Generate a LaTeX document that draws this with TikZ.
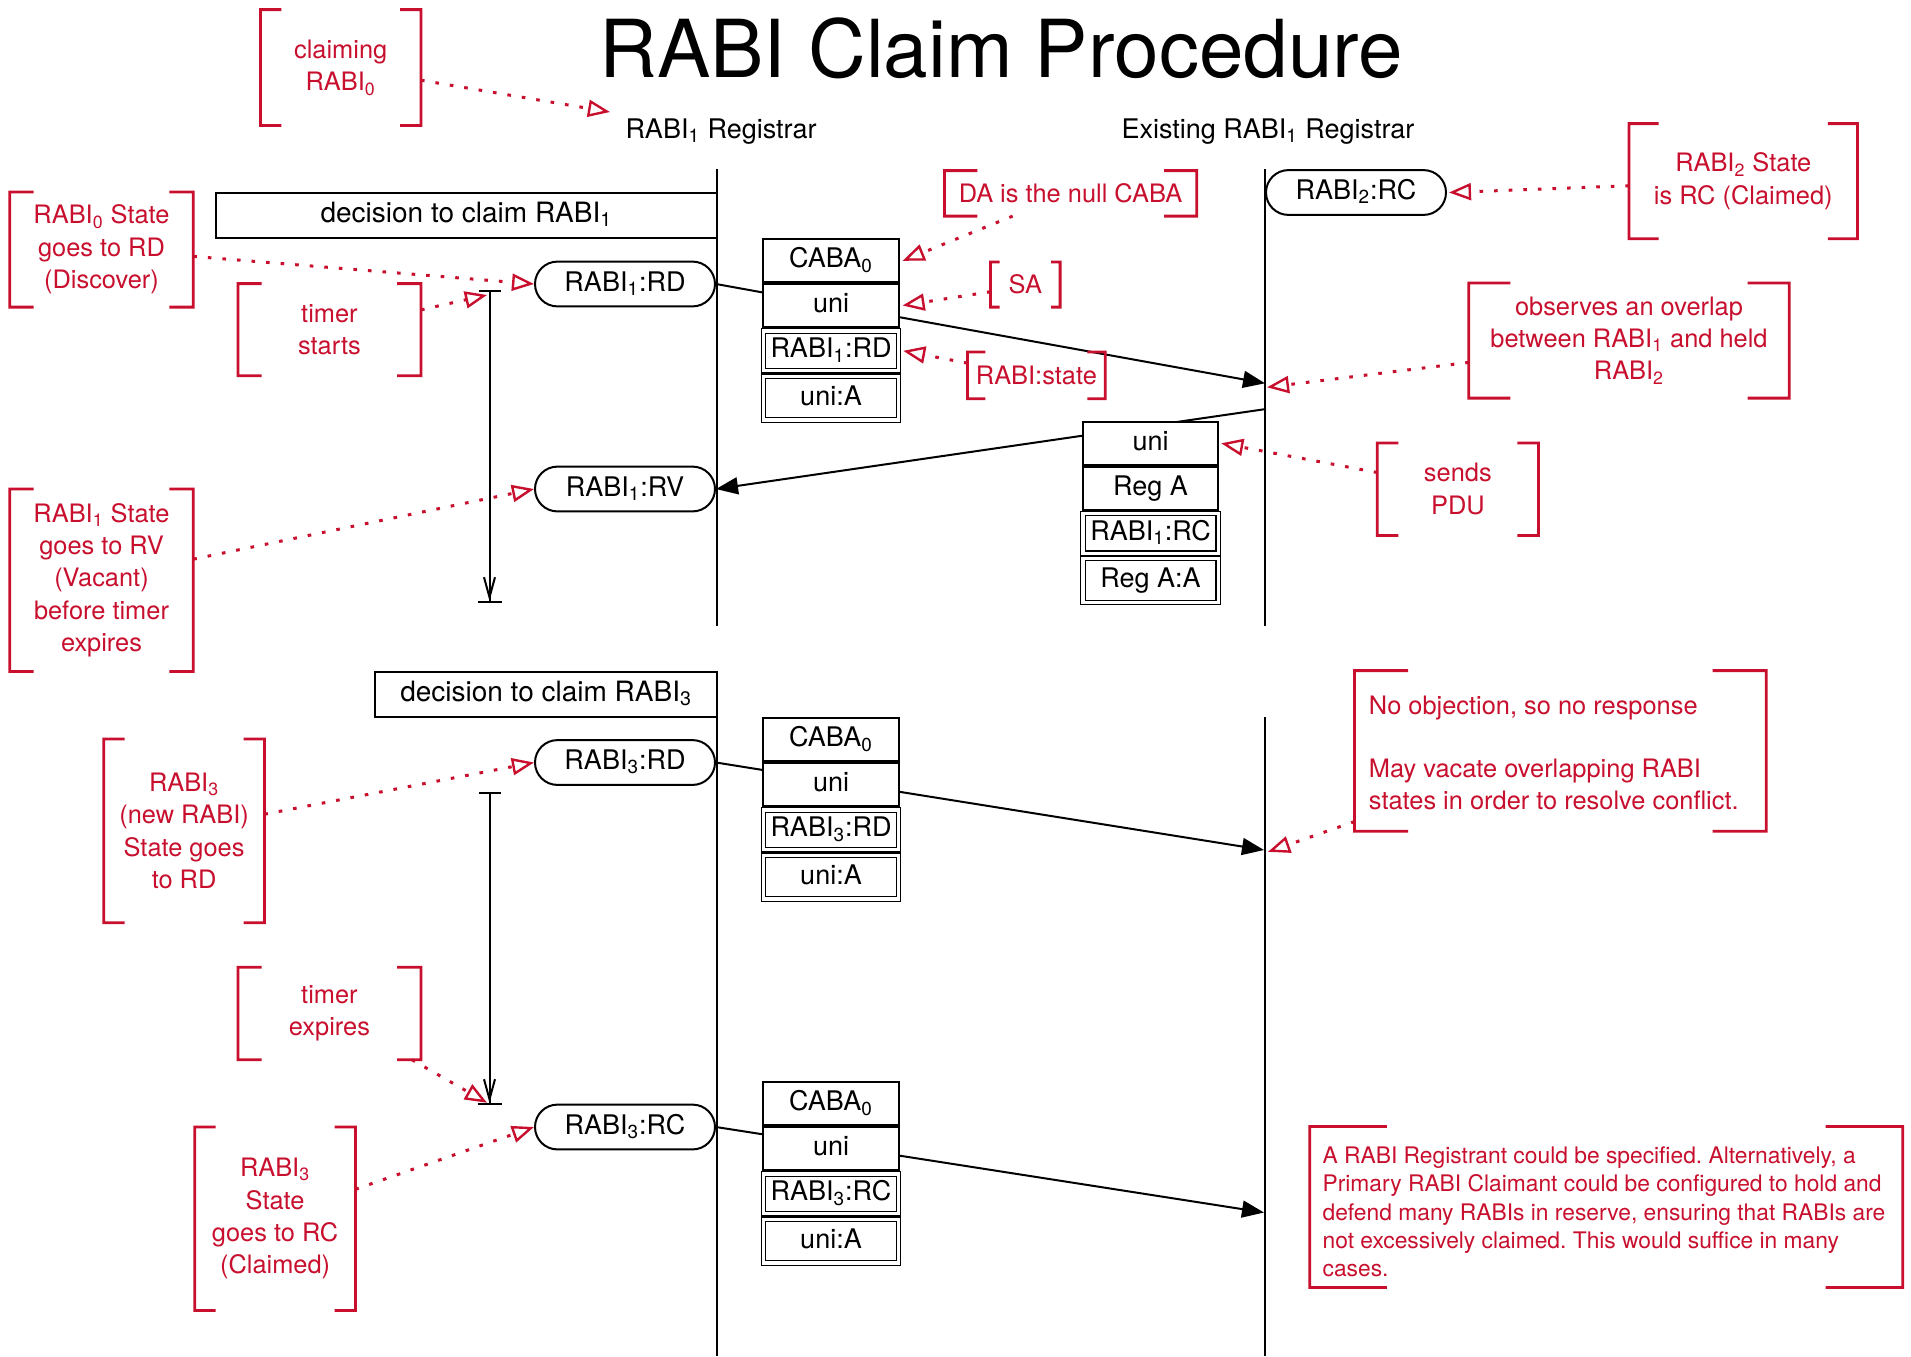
\documentclass[tikz,border=0pt]{standalone}
\usepackage{fontspec}
\setmainfont{TeX Gyre Heros}
\usetikzlibrary{arrows.meta,calc,fit}
\definecolor{nred}{RGB}{200,16,46}
\frenchspacing
\newcommand{\sbx}[1]{\textsubscript{#1}}
\newcommand{\brackets}[1]{%
  \draw[brk] ($(#1.north west)!0.13!(#1.north east)$) -- (#1.north west) -- (#1.south west) -- ($(#1.south west)!0.13!(#1.south east)$);
  \draw[brk] ($(#1.north east)!0.13!(#1.north west)$) -- (#1.north east) -- (#1.south east) -- ($(#1.south east)!0.13!(#1.south west)$);}
\newcommand{\bnote}[6]{%
  \node[fit={(#2,#3) (#4,#5)},inner sep=0pt] (#1) {};
  \node[note] (#1-t) at (#1.center) {#6};
  \brackets{#1}}
\begin{document}
\begin{tikzpicture}[x=0.5pt,y=-0.5pt,
  bfont/.style={font=\fontsize{13.5}{16}\selectfont},
  lifeline/.style={line width=1pt},
  cell/.style={draw,line width=1pt,fill=white,minimum width=67.6pt,minimum height=21.5pt,inner sep=0pt,text height=9.8pt,text depth=2.8pt,bfont},
  dcell/.style={cell,double,line width=0.6pt,double distance=1.6pt,minimum height=19.8pt},
  state/.style={draw,line width=1pt,fill=white,rounded corners=11.2pt,minimum width=90pt,minimum height=22.4pt,inner sep=0pt,text height=9.8pt,text depth=2.8pt,bfont},
  decision/.style={draw,line width=1pt,fill=white,minimum height=22.4pt,inner sep=0pt,text height=9.8pt,text depth=2.8pt,font=\fontsize{14}{16}\selectfont},
  note/.style={inner sep=0pt,text=nred,align=center,font=\fontsize{12.7}{16.2}\selectfont},
  brk/.style={draw=nred,line width=1.4pt},
  ann/.style={nred,line width=1.5pt,dash pattern=on 1.8pt off 5.5pt,-{Triangle[open,length=11pt,width=8.5pt,line width=1.2pt]}},
  msg/.style={line width=1pt,-{Triangle[length=11pt,width=8.5pt]}},
  timer/.style={line width=1pt,{Bar[width=11pt]}-{Straight Barb[length=10pt,width=5.5pt]Bar[width=12pt]}},
]
\useasboundingbox (0,0) rectangle (1911,1356);
\fill[white] (0,0) rectangle (1911,1356);

% title and headers
\node[font=\fontsize{40}{48}\selectfont] (title) at (1001,48) {RABI Claim Procedure};
\node[bfont,anchor=base] (hdr1) at (721,138) {RABI\sbx{1} Registrar};
\node[bfont,anchor=base] (hdr2) at (1268,138) {Existing RABI\sbx{1} Registrar};

% lifeline coordinates
\coordinate (L1top) at (717,169);
\coordinate (L1bot) at (717,626);
\coordinate (L2top) at (717,671);
\coordinate (L2bot) at (717,1356);
\coordinate (R1top) at (1265,169);
\coordinate (R1bot) at (1265,626);
\coordinate (R2top) at (1265,717);
\coordinate (R2bot) at (1265,1356);
\draw[lifeline] (L1top) -- (L1bot);
\draw[lifeline] (L2top) -- (L2bot);
\draw[lifeline] (R1top) -- (R1bot);
\draw[lifeline] (R2top) -- (R2bot);

% message end points on lifelines
\coordinate (m1e) at (1265,383.3);
\coordinate (m2s) at (1266,409);
\coordinate (m3e) at (1264,850);
\coordinate (m4e) at (1264,1212.5);
\coordinate (hdrtip) at (610,112);
\coordinate (ov) at (1267,387.3);
\coordinate (noobj) at (1268,851.8);
\coordinate (t1a) at (489.5,290);
\coordinate (t1b) at (489.5,603);
\coordinate (t2a) at (489.5,791.7);
\coordinate (t2b) at (489.5,1105);
\coordinate (ts) at (487,295);
\coordinate (te) at (487,1102.7);

% decision boxes
\node[decision,minimum width=250.6pt] (dec1) at (466.4,215.3) {decision to claim RABI\sbx{1}};
\node[decision,minimum width=170.9pt] (dec2) at (546.1,694.2) {decision to claim RABI\sbx{3}};

% state nodes
\node[state] (rd1) at (625,284) {RABI\sbx{1}:RD};
\node[state] (rv1) at (625,489) {RABI\sbx{1}:RV};
\node[state] (rd3) at (625,762.5) {RABI\sbx{3}:RD};
\node[state] (rc3) at (625,1127) {RABI\sbx{3}:RC};
\node[state] (rc2) at (1356,192.5) {RABI\sbx{2}:RC};

% messages (drawn before the PDU stacks)
\draw[msg] (rd1.east) -- (m1e);
\draw[msg] (m2s) -- (rv1.east);
\draw[msg] (rd3.east) -- (m3e);
\draw[msg] (rc3.east) -- (m4e);

% PDU stacks
\node[cell] (caba1) at (831,260.8) {CABA\sbx{0}};
\node[cell] (uni1) at (831,305.5) {uni};
\node[dcell] (st1) at (831,350.8) {RABI\sbx{1}:RD};
\node[dcell,minimum height=21.9pt] (ua1) at (831,398) {uni:A};

\node[cell] (uniR) at (1150.6,443.3) {uni};
\node[cell] (regR) at (1150.6,488.3) {Reg A};
\node[dcell] (stR) at (1150.6,533.3) {RABI\sbx{1}:RC};
\node[dcell,minimum height=21.9pt] (raR) at (1150.6,580.5) {Reg A:A};

\node[cell] (caba2) at (831,739.8) {CABA\sbx{0}};
\node[cell] (uni2) at (831,784.5) {uni};
\node[dcell] (st2) at (831,829.8) {RABI\sbx{3}:RD};
\node[dcell,minimum height=21.9pt] (ua2) at (831,877) {uni:A};

\node[cell] (caba3) at (831,1103.8) {CABA\sbx{0}};
\node[cell] (uni3) at (831,1148.5) {uni};
\node[dcell] (st3) at (831,1193.8) {RABI\sbx{3}:RC};
\node[dcell,minimum height=21.9pt] (ua3) at (831,1241) {uni:A};

% timers
\draw[timer] (t1a) -- (t1b);
\draw[timer] (t2a) -- (t2b);

% annotations
\bnote{n0}{260.8}{10}{420.6}{125}{claiming\\RABI\sbx{0}}
\bnote{nrd}{10.1}{192.3}{192.9}{306.7}{RABI\sbx{0} State\\goes to RD\\(Discover)}
\bnote{nts}{238.3}{284}{420.6}{375.3}{timer\\starts}
\bnote{nrv}{10.1}{489.3}{192.9}{671}{RABI\sbx{1} State\\goes to RV\\(Vacant)\\before timer\\expires}
\bnote{nnew}{104.2}{739.3}{264}{922.3}{RABI\sbx{3}\\(new RABI)\\State goes\\to RD}
\bnote{nte}{238.3}{967.7}{420.6}{1059.3}{timer\\expires}
\bnote{nrc}{195.2}{1127.3}{355}{1310}{RABI\sbx{3}\\State\\goes to RC\\(Claimed)}
\bnote{nda}{944.9}{171}{1196.4}{215.7}{DA is the null CABA}
\bnote{nsa}{990.9}{262.3}{1059.7}{306.7}{SA}
\bnote{nstate}{967.9}{352.3}{1104.9}{398.3}{RABI:state}
\bnote{nr2}{1629.4}{124}{1857.1}{238.3}{RABI\sbx{2} State\\is RC (Claimed)}
\bnote{nov}{1469.2}{283.3}{1788.8}{397.7}{observes an overlap\\between RABI\sbx{1} and held\\RABI\sbx{2}}
\bnote{npdu}{1377.7}{443.3}{1538}{535}{sends\\PDU}

\node[fit={(1354.9,671) (1765.8,830.8)},inner sep=0pt] (nno) {};
\node[note,align=left,anchor=west] (nno-t) at ($(nno.west)+(14,2)$) {No objection, so no response\\[15.5pt]May vacate overlapping RABI\\states in order to resolve conflict.};
\brackets{nno}

\node[fit={(1310.1,1126.8) (1902.4,1287)},inner sep=0pt] (nreg) {};
\node[note,align=left,anchor=west,font=\fontsize{11.4}{14.2}\selectfont] (nreg-t) at ($(nreg.west)+(12.5,5)$) {A RABI Registrant could be specified. Alternatively, a\\Primary RABI Claimant could be configured to hold and\\defend many RABIs in reserve, ensuring that RABIs are\\not excessively claimed. This would suffice in many\\cases.};
\brackets{nreg}

% annotation connectors
\draw[ann] ($(n0.north east)!0.61!(n0.south east)$) -- (hdrtip);
\draw[ann] ($(nrd.north east)!0.56!(nrd.south east)$) -- (rd1.west);
\draw[ann] ($(nts.north east)!0.285!(nts.south east)$) -- (ts);
\draw[ann] ($(nrv.north east)!0.385!(nrv.south east)$) -- (rv1.west);
\draw[ann] ($(nnew.north east)!0.41!(nnew.south east)$) -- (rd3.west);
\draw[ann] ($(nte.south east)!0.05!(nte.south west)$) -- (te);
\draw[ann] ($(nrc.north east)!0.34!(nrc.south east)$) -- (rc3.west);
\draw[ann] ($(nda.south west)!0.27!(nda.south east)$) -- ([xshift=1.5pt]caba1.east);
\draw[ann] ($(nsa.north west)!0.66!(nsa.south west)$) -- ([xshift=1.5pt]uni1.east);
\draw[ann] ($(nstate.north west)!0.24!(nstate.south west)$) -- ([xshift=2pt]st1.east);
\draw[ann] ($(nr2.north west)!0.54!(nr2.south west)$) -- ([xshift=1pt]rc2.east);
\draw[ann] ($(nov.north west)!0.69!(nov.south west)$) -- (ov);
\draw[ann] ($(npdu.north west)!0.32!(npdu.south west)$) -- ([xshift=1pt]uniR.east);
\draw[ann] ($(nno.north west)!0.94!(nno.south west)$) -- (noobj);
\end{tikzpicture}
\end{document}
